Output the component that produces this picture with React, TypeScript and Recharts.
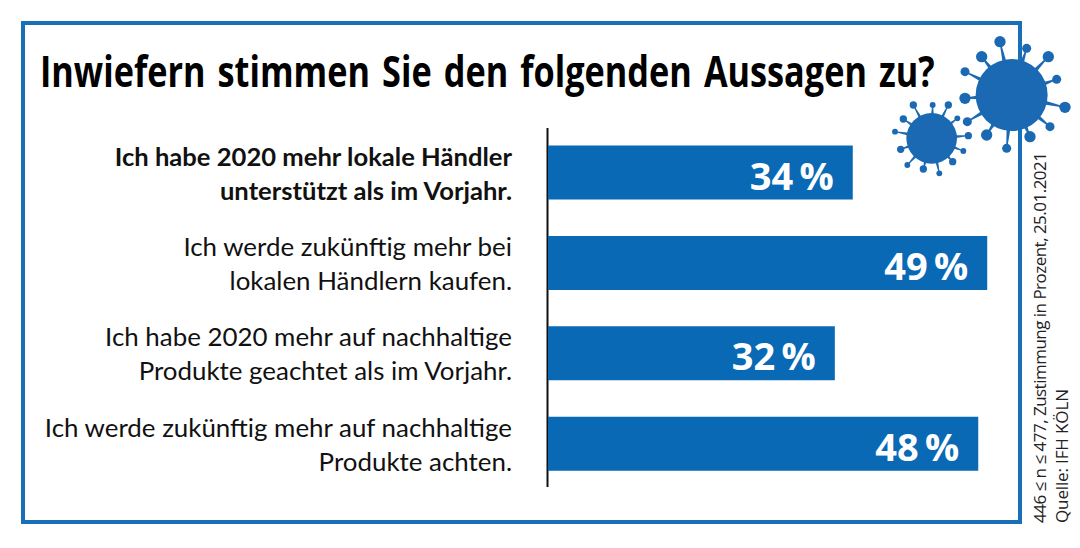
import React from "react";
import { BarChart, Bar, XAxis, YAxis, LabelList } from "recharts";

const statements = [
  "Ich habe 2020 mehr lokale Händler\nunterstützt als im Vorjahr.",
  "Ich werde zukünftig mehr bei\nlokalen Händlern kaufen.",
  "Ich habe 2020 mehr auf nachhaltige\nProdukte geachtet als im Vorjahr.",
  "Ich werde zukünftig mehr auf nachhaltige\nProdukte achten.",
];
const shares = [34, 49, 32, 48];
const rows = statements.map((statement, i) => ({ statement, share: shares[i] }));

const title = "Inwiefern stimmen Sie den folgenden Aussagen zu?";
const note = "446 ≤ n ≤ 477, Zustimmung in Prozent, 25.01.2021";
const source = "Quelle: IFH KÖLN";

const FONT = "Lato, 'Open Sans', sans-serif";
const BLUE = "#0a69b5";

const StatementTick = (props: any) => {
  const { y, payload, index } = props;
  const lines = String(payload.value).split("\n");
  return (
    <g>
      {lines.map((line: string, i: number) => (
        <text
          key={i}
          x={512}
          y={y + (i === 0 ? -7 : 27)}
          textAnchor="end"
          fontFamily={FONT}
          fontSize={index === 0 ? 25.6 : 25.9}
          fontWeight={index === 0 ? 700 : 400}
          fill="#111"
        >
          {line}
        </text>
      ))}
    </g>
  );
};

const ShareLabel = (props: any) => {
  const { x, y, width, height, value } = props;
  return (
    <text
      x={x + width - 19}
      y={y + height / 2 + 17}
      textAnchor="end"
      fill="#fff"
      fontFamily="'Open Sans', sans-serif"
      fontWeight={700}
      fontSize={38}
    >
      {`${value}\u2009%`}
    </text>
  );
};

const bigSpikes = [[360,65],[440,85],[505,110],[530,178],[555,262],[510,320],[450,350],[380,385],[320,345],[262,305],[255,235],[255,155],[305,110]];
const smallSpikes = [[100,255],[158,255],[205,255],[232,295],[265,347],[250,393],[218,425],[178,460],[130,447],[82,435],[62,388],[45,335],[70,297]];

const Virus = ({ cx, cy, r, spikes, tip, w }: any) => (
  <g fill="#1b69b2">
    <circle cx={cx} cy={cy} r={r} />
    {spikes.map(([x, y]: number[], i: number) => {
      const dx = x - cx;
      const dy = y - cy;
      const len = Math.hypot(dx, dy);
      const nx = (-dy / len) * w;
      const ny = (dx / len) * w;
      const bx = cx + (dx / len) * r * 0.9;
      const by = cy + (dy / len) * r * 0.9;
      return (
        <g key={i}>
          <polygon points={`${bx + nx * 2},${by + ny * 2} ${x + nx * 0.5},${y + ny * 0.5} ${x - nx * 0.5},${y - ny * 0.5} ${bx - nx * 2},${by - ny * 2}`} />
          <circle cx={x} cy={y} r={i % 2 ? tip * 0.8 : tip} />
        </g>
      );
    })}
  </g>
);

export default function App() {
  return (
    <div style={{ position: "absolute", left: 0, top: 0, width: 1080, height: 548, background: "#fff", overflow: "hidden" }}>
      <svg width={1080} height={548} style={{ position: "absolute", left: 0, top: 0 }}>
        <rect x={23} y={23} width={997} height={499} fill="none" stroke="#1a70b8" strokeWidth={4} />
        <g transform="translate(40,87) scale(0.84,1)">
          <text x={0} y={0} fontFamily="'Open Sans', sans-serif" fontWeight={700} fontSize={43} wordSpacing={4} textLength={1065} lengthAdjust="spacingAndGlyphs" fill="#000">
            {title}
          </text>
        </g>
        <text transform="translate(1046,523) rotate(-90)" fontFamily="'Open Sans', sans-serif" fontSize={17} textLength={371} fill="#222">
          {note}
        </text>
        <text transform="translate(1068,523) rotate(-90)" fontFamily="'Open Sans', sans-serif" fontSize={17} textLength={134} fill="#222">
          {source}
        </text>
        <line x1={547.5} y1={128} x2={547.5} y2={487} stroke="#111" strokeWidth={2} />
      </svg>
      <div style={{ position: "absolute", left: 0, top: 0 }}>
        <BarChart
          width={1080}
          height={548}
          data={rows}
          layout="vertical"
          margin={{ top: 127.5, right: 39, bottom: 59, left: 0 }}
          barCategoryGap={0}
        >
          <XAxis type="number" hide domain={[0, 55]} />
          <YAxis
            type="category"
            dataKey="statement"
            width={548}
            axisLine={false}
            tickLine={false}
            interval={0}
            tick={<StatementTick />}
          />
          <Bar dataKey="share" fill={BLUE} barSize={54} isAnimationActive={false}>
            <LabelList dataKey="share" content={<ShareLabel />} />
          </Bar>
        </BarChart>
      </div>
      <svg viewBox="0 0 600 540" width={200} height={180} style={{ position: "absolute", left: 880, top: 20 }}>
        <Virus cx={395} cy={225} r={108} spikes={bigSpikes} tip={17} w={3} />
        <Virus cx={155} cy={355} r={76} spikes={smallSpikes} tip={11} w={2.2} />
      </svg>
    </div>
  );
}
